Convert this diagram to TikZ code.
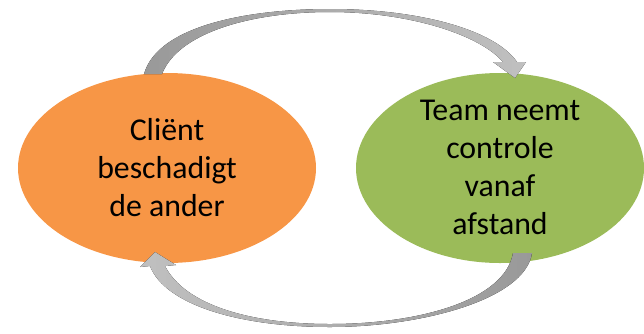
\documentclass[tikz,border=0pt]{standalone}
\usepackage{fontspec}
\usetikzlibrary{shapes.geometric}
\setmainfont{Carlito}
\definecolor{orng}{HTML}{F79646}
\definecolor{grn}{HTML}{9BBB59}
\definecolor{dgray}{HTML}{999999}
\definecolor{lgray}{HTML}{C0C0C0}
\begin{document}
\begin{tikzpicture}[x=1pt,y=-1pt,
  blob/.style={ellipse, minimum width=#1, minimum height=190pt, inner sep=0pt, draw=none},
  lbl/.style={align=center, font=\fontsize{31.8}{38}\selectfont, inner sep=0pt, text=black},
  topband/.style={left color=dgray, middle color=white, right color=lgray, draw=none},
  botband/.style={left color=lgray, middle color=white, right color=dgray, draw=none}]
\path[use as bounding box] (0,0) rectangle (644,333);
\node[blob=298pt, fill=orng] (client) at (167,168) {};
\node[blob=288pt, fill=grn] (team) at (500,168) {};
\node[lbl] (clienttxt) at (167,170.4) {\strut Cliënt\\beschadigt\\de ander\strut};
\node[lbl] (teamtxt) at (500,169.4) {\strut Team neemt\\controle\\vanaf\\afstand\strut};
% top arrow: client -> team
\fill[topband]
 (144,74) .. controls (158,25) and (250,9) .. (330,9)
 .. controls (420,9) and (495,30) .. (517,62)
 -- (526,62) -- (515,78) -- (493,62) -- (503,62)
 .. controls (480,35) and (410,12) .. (330,12)
 .. controls (250,12) and (178,33) .. (162,74) -- cycle;
% bottom arrow: team -> client
\fill[botband]
 (532,253) .. controls (525,300) and (420,327) .. (330,327)
 .. controls (240,327) and (165,305) .. (150,266)
 -- (140,267) -- (155,252) -- (176,265) -- (165,266)
 .. controls (185,305) and (250,324) .. (330,324)
 .. controls (420,324) and (505,300) .. (513,253) -- cycle;
\end{tikzpicture}
\end{document}
